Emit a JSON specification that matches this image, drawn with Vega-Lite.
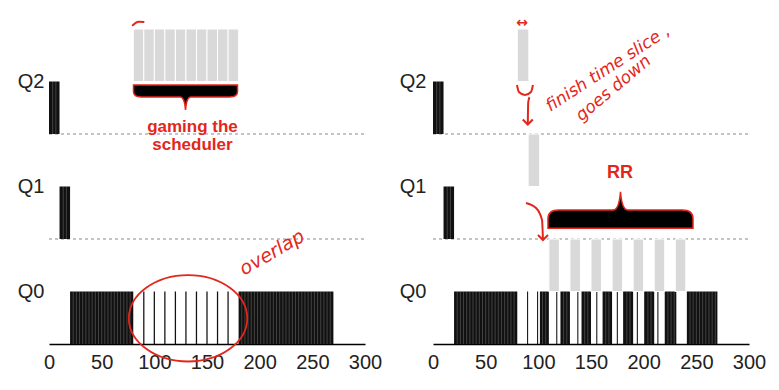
{
  "$schema": "https://vega.github.io/schema/vega-lite/v6.json",
  "padding": {"left": 17, "top": 8, "right": 5, "bottom": 5},
  "background": "white",
  "config": {"view": {"stroke": null}, "font": "Liberation Sans"},
  "datasets": {
    "dashes": [{"x": 0, "x2": 300, "y": 1}, {"x": 0, "x2": 300, "y": 2}],
    "leftA": [
      {"x": 0, "x2": 10, "lo": 2, "hi": 2.5},
      {"x": 10, "x2": 20, "lo": 1, "hi": 1.5},
      {"x": 20, "x2": 80, "lo": 0, "hi": 0.5},
      {"x": 89.4, "x2": 90.6, "lo": 0, "hi": 0.5},
      {"x": 99.4, "x2": 100.6, "lo": 0, "hi": 0.5},
      {"x": 109.4, "x2": 110.6, "lo": 0, "hi": 0.5},
      {"x": 119.4, "x2": 120.6, "lo": 0, "hi": 0.5},
      {"x": 129.4, "x2": 130.6, "lo": 0, "hi": 0.5},
      {"x": 139.4, "x2": 140.6, "lo": 0, "hi": 0.5},
      {"x": 149.4, "x2": 150.6, "lo": 0, "hi": 0.5},
      {"x": 159.4, "x2": 160.6, "lo": 0, "hi": 0.5},
      {"x": 169.4, "x2": 170.6, "lo": 0, "hi": 0.5},
      {"x": 180, "x2": 270, "lo": 0, "hi": 0.5}
    ],
    "leftB": [
      {"x": 80, "x2": 90, "lo": 2.5, "hi": 3},
      {"x": 90, "x2": 100, "lo": 2.5, "hi": 3},
      {"x": 100, "x2": 110, "lo": 2.5, "hi": 3},
      {"x": 110, "x2": 120, "lo": 2.5, "hi": 3},
      {"x": 120, "x2": 130, "lo": 2.5, "hi": 3},
      {"x": 130, "x2": 140, "lo": 2.5, "hi": 3},
      {"x": 140, "x2": 150, "lo": 2.5, "hi": 3},
      {"x": 150, "x2": 160, "lo": 2.5, "hi": 3},
      {"x": 160, "x2": 170, "lo": 2.5, "hi": 3},
      {"x": 170, "x2": 180, "lo": 2.5, "hi": 3}
    ],
    "leftS": [
      {"x": 3.5, "lo": 2, "hi": 2.5}, {"x": 6.5, "lo": 2, "hi": 2.5},
      {"x": 13.5, "lo": 1, "hi": 1.5}, {"x": 16.5, "lo": 1, "hi": 1.5},
      {"x": 23, "lo": 0, "hi": 0.5}, {"x": 26, "lo": 0, "hi": 0.5}, {"x": 29, "lo": 0, "hi": 0.5},
      {"x": 32, "lo": 0, "hi": 0.5}, {"x": 35, "lo": 0, "hi": 0.5}, {"x": 38, "lo": 0, "hi": 0.5},
      {"x": 41, "lo": 0, "hi": 0.5}, {"x": 44, "lo": 0, "hi": 0.5}, {"x": 47, "lo": 0, "hi": 0.5},
      {"x": 50, "lo": 0, "hi": 0.5}, {"x": 53, "lo": 0, "hi": 0.5}, {"x": 56, "lo": 0, "hi": 0.5},
      {"x": 59, "lo": 0, "hi": 0.5}, {"x": 62, "lo": 0, "hi": 0.5}, {"x": 65, "lo": 0, "hi": 0.5},
      {"x": 68, "lo": 0, "hi": 0.5}, {"x": 71, "lo": 0, "hi": 0.5}, {"x": 74, "lo": 0, "hi": 0.5},
      {"x": 77, "lo": 0, "hi": 0.5},
      {"x": 183, "lo": 0, "hi": 0.5}, {"x": 186, "lo": 0, "hi": 0.5}, {"x": 189, "lo": 0, "hi": 0.5},
      {"x": 192, "lo": 0, "hi": 0.5}, {"x": 195, "lo": 0, "hi": 0.5}, {"x": 198, "lo": 0, "hi": 0.5},
      {"x": 201, "lo": 0, "hi": 0.5}, {"x": 204, "lo": 0, "hi": 0.5}, {"x": 207, "lo": 0, "hi": 0.5},
      {"x": 210, "lo": 0, "hi": 0.5}, {"x": 213, "lo": 0, "hi": 0.5}, {"x": 216, "lo": 0, "hi": 0.5},
      {"x": 219, "lo": 0, "hi": 0.5}, {"x": 222, "lo": 0, "hi": 0.5}, {"x": 225, "lo": 0, "hi": 0.5},
      {"x": 228, "lo": 0, "hi": 0.5}, {"x": 231, "lo": 0, "hi": 0.5}, {"x": 234, "lo": 0, "hi": 0.5},
      {"x": 237, "lo": 0, "hi": 0.5}, {"x": 240, "lo": 0, "hi": 0.5}, {"x": 243, "lo": 0, "hi": 0.5},
      {"x": 246, "lo": 0, "hi": 0.5}, {"x": 249, "lo": 0, "hi": 0.5}, {"x": 252, "lo": 0, "hi": 0.5},
      {"x": 255, "lo": 0, "hi": 0.5}, {"x": 258, "lo": 0, "hi": 0.5}, {"x": 261, "lo": 0, "hi": 0.5},
      {"x": 264, "lo": 0, "hi": 0.5}, {"x": 267, "lo": 0, "hi": 0.5}
    ],
    "rightA": [
      {"x": 0, "x2": 10, "lo": 2, "hi": 2.5},
      {"x": 10, "x2": 20, "lo": 1, "hi": 1.5},
      {"x": 20, "x2": 80, "lo": 0, "hi": 0.5},
      {"x": 89.3, "x2": 90.3, "lo": 0, "hi": 0.5},
      {"x": 98.8, "x2": 99.8, "lo": 0, "hi": 0.5},
      {"x": 101.5, "x2": 110, "lo": 0, "hi": 0.5},
      {"x": 117, "x2": 118, "lo": 0, "hi": 0.5},
      {"x": 121, "x2": 130, "lo": 0, "hi": 0.5},
      {"x": 137, "x2": 138, "lo": 0, "hi": 0.5},
      {"x": 141, "x2": 150, "lo": 0, "hi": 0.5},
      {"x": 155, "x2": 156, "lo": 0, "hi": 0.5},
      {"x": 161, "x2": 170, "lo": 0, "hi": 0.5},
      {"x": 174.5, "x2": 175.5, "lo": 0, "hi": 0.5},
      {"x": 180.5, "x2": 190, "lo": 0, "hi": 0.5},
      {"x": 193.5, "x2": 194.5, "lo": 0, "hi": 0.5},
      {"x": 200.5, "x2": 210, "lo": 0, "hi": 0.5},
      {"x": 213, "x2": 214, "lo": 0, "hi": 0.5},
      {"x": 220, "x2": 231, "lo": 0, "hi": 0.5},
      {"x": 241, "x2": 270, "lo": 0, "hi": 0.5}
    ],
    "rightB": [
      {"x": 80, "x2": 91, "lo": 2.5, "hi": 3},
      {"x": 90.3, "x2": 101.3, "lo": 1.5, "hi": 2},
      {"x": 110, "x2": 120, "lo": 0.5, "hi": 1},
      {"x": 130, "x2": 140, "lo": 0.5, "hi": 1},
      {"x": 150, "x2": 160, "lo": 0.5, "hi": 1},
      {"x": 170, "x2": 180, "lo": 0.5, "hi": 1},
      {"x": 190, "x2": 200, "lo": 0.5, "hi": 1},
      {"x": 210, "x2": 220, "lo": 0.5, "hi": 1},
      {"x": 230, "x2": 240, "lo": 0.5, "hi": 1}
    ],
    "rightS": [
      {"x": 3.5, "lo": 2, "hi": 2.5}, {"x": 6.5, "lo": 2, "hi": 2.5},
      {"x": 13.5, "lo": 1, "hi": 1.5}, {"x": 16.5, "lo": 1, "hi": 1.5},
      {"x": 23, "lo": 0, "hi": 0.5}, {"x": 26, "lo": 0, "hi": 0.5}, {"x": 29, "lo": 0, "hi": 0.5},
      {"x": 32, "lo": 0, "hi": 0.5}, {"x": 35, "lo": 0, "hi": 0.5}, {"x": 38, "lo": 0, "hi": 0.5},
      {"x": 41, "lo": 0, "hi": 0.5}, {"x": 44, "lo": 0, "hi": 0.5}, {"x": 47, "lo": 0, "hi": 0.5},
      {"x": 50, "lo": 0, "hi": 0.5}, {"x": 53, "lo": 0, "hi": 0.5}, {"x": 56, "lo": 0, "hi": 0.5},
      {"x": 59, "lo": 0, "hi": 0.5}, {"x": 62, "lo": 0, "hi": 0.5}, {"x": 65, "lo": 0, "hi": 0.5},
      {"x": 68, "lo": 0, "hi": 0.5}, {"x": 71, "lo": 0, "hi": 0.5}, {"x": 74, "lo": 0, "hi": 0.5},
      {"x": 77, "lo": 0, "hi": 0.5},
      {"x": 104, "lo": 0, "hi": 0.5}, {"x": 107, "lo": 0, "hi": 0.5},
      {"x": 124, "lo": 0, "hi": 0.5}, {"x": 127, "lo": 0, "hi": 0.5},
      {"x": 144, "lo": 0, "hi": 0.5}, {"x": 147, "lo": 0, "hi": 0.5},
      {"x": 164, "lo": 0, "hi": 0.5}, {"x": 167, "lo": 0, "hi": 0.5},
      {"x": 184, "lo": 0, "hi": 0.5}, {"x": 187, "lo": 0, "hi": 0.5},
      {"x": 204, "lo": 0, "hi": 0.5}, {"x": 207, "lo": 0, "hi": 0.5},
      {"x": 223, "lo": 0, "hi": 0.5}, {"x": 226, "lo": 0, "hi": 0.5}, {"x": 229, "lo": 0, "hi": 0.5},
      {"x": 244, "lo": 0, "hi": 0.5}, {"x": 247, "lo": 0, "hi": 0.5}, {"x": 250, "lo": 0, "hi": 0.5},
      {"x": 253, "lo": 0, "hi": 0.5}, {"x": 256, "lo": 0, "hi": 0.5}, {"x": 259, "lo": 0, "hi": 0.5},
      {"x": 262, "lo": 0, "hi": 0.5}, {"x": 265, "lo": 0, "hi": 0.5}, {"x": 268, "lo": 0, "hi": 0.5}
    ],
    "leftBrace": [{"x": 129.6, "y": 2.352}],
    "leftEllipse": [{"x": 132, "y": 0.245}],
    "leftLines": [
      {"g": "arc", "o": 1, "x": 78.9, "y": 3.03},
      {"g": "arc", "o": 2, "x": 85.1, "y": 3.07},
      {"g": "arc", "o": 3, "x": 90.5, "y": 3.067}
    ],
    "leftText": [
      {"t": "gaming the", "x": 136.2, "y": 2.07},
      {"t": "scheduler", "x": 136.2, "y": 1.895}
    ],
    "leftHand": [{"t": "overlap", "x": 211.7, "y": 0.87}],
    "rightBrace": [{"x": 178, "y": 1.276}],
    "rightLines": [
      {"g": "cup", "o": 1, "x": 79.7, "y": 2.467},
      {"g": "cup", "o": 2, "x": 81.6, "y": 2.40},
      {"g": "cup", "o": 3, "x": 87.3, "y": 2.371},
      {"g": "cup", "o": 4, "x": 93, "y": 2.40},
      {"g": "cup", "o": 5, "x": 94.9, "y": 2.467},
      {"g": "down", "o": 1, "x": 91.6, "y": 2.35},
      {"g": "down", "o": 2, "x": 90.4, "y": 2.3},
      {"g": "down", "o": 3, "x": 90, "y": 2.09},
      {"g": "curve", "o": 1, "x": 88.3, "y": 1.343},
      {"g": "curve", "o": 2, "x": 97.8, "y": 1.295},
      {"g": "curve", "o": 3, "x": 103.5, "y": 1.181},
      {"g": "curve", "o": 4, "x": 104.4, "y": 0.99}
    ],
    "rightHeads": [{"x": 90, "y": 2.09}, {"x": 104.4, "y": 0.99}],
    "rightHand": [
      {"t": "finish time slice ,", "x": 166.1, "y": 2.624, "a": 327},
      {"t": "goes down", "x": 171.4, "y": 2.435, "a": 320}
    ],
    "rightRR": [{"t": "RR", "x": 177.5, "y": 1.629}],
    "rightDbl": [{"t": "↔", "x": 84.5, "y": 3.06}]
  },
  "hconcat": [
    {
      "width": 316,
      "height": 336,
      "layer": [
        {
          "data": {"name": "dashes"},
          "mark": {"type": "rule", "strokeDash": [3, 3], "color": "#8a8a8a", "strokeWidth": 1},
          "encoding": {
            "x": {"field": "x", "type": "quantitative", "scale": {"domain": [0, 300], "nice": false},
              "axis": {"values": [0, 50, 100, 150, 200, 250, 300], "ticks": false, "grid": false, "title": null, "labelFontSize": 20, "labelColor": "#222", "domainColor": "#000", "domainWidth": 1.5, "labelPadding": 8, "labelFlush": false}},
            "x2": {"field": "x2"},
            "y": {"field": "y", "type": "quantitative", "scale": {"domain": [0, 3.2], "nice": false},
              "axis": {"values": [0.5, 1.5, 2.5], "labelExpr": "datum.value < 1 ? 'Q0' : datum.value < 2 ? 'Q1' : 'Q2'", "domain": false, "ticks": false, "grid": false, "title": null, "labelFontSize": 20, "labelColor": "#222", "labelPadding": 5}}
          }
        },
        {
          "data": {"name": "leftA"},
          "mark": {"type": "rect", "color": "#111"},
          "encoding": {
            "x": {"field": "x", "type": "quantitative"}, "x2": {"field": "x2"},
            "y": {"field": "lo", "type": "quantitative"}, "y2": {"field": "hi"}
          }
        },
        {
          "data": {"name": "leftS"},
          "mark": {"type": "rule", "color": "#ffffff", "strokeWidth": 0.6, "opacity": 0.35},
          "encoding": {
            "x": {"field": "x", "type": "quantitative"},
            "y": {"field": "lo", "type": "quantitative"}, "y2": {"field": "hi"}
          }
        },
        {
          "data": {"name": "leftB"},
          "mark": {"type": "rect", "fill": "#d9d9d9", "stroke": "#ffffff", "strokeWidth": 1},
          "encoding": {
            "x": {"field": "x", "type": "quantitative"}, "x2": {"field": "x2"},
            "y": {"field": "lo", "type": "quantitative"}, "y2": {"field": "hi"}
          }
        },
        {
          "data": {"name": "leftBrace"},
          "mark": {"type": "point", "shape": "M-1,-0.23L1,-0.23L1,-0.1Q1,0,0.85,0L0.1,0Q0.02,0,0,0.25Q-0.02,0,-0.1,0L-0.85,0Q-1,0,-1,-0.1Z", "size": 10816, "filled": true, "fill": "#000", "stroke": "#e3261b", "strokeWidth": 1.5, "opacity": 1},
          "encoding": {"x": {"field": "x", "type": "quantitative"}, "y": {"field": "y", "type": "quantitative"}}
        },
        {
          "data": {"name": "leftLines"},
          "mark": {"type": "line", "color": "#e3261b", "strokeWidth": 2, "interpolate": "monotone"},
          "encoding": {
            "x": {"field": "x", "type": "quantitative"}, "y": {"field": "y", "type": "quantitative"},
            "detail": {"field": "g"}, "order": {"field": "o"}
          }
        },
        {
          "data": {"name": "leftText"},
          "mark": {"type": "text", "color": "#e3261b", "fontSize": 17, "fontWeight": "bold", "baseline": "middle", "align": "center"},
          "encoding": {"x": {"field": "x", "type": "quantitative"}, "y": {"field": "y", "type": "quantitative"}, "text": {"field": "t"}}
        },
        {
          "data": {"name": "leftHand"},
          "mark": {"type": "text", "color": "#e3261b", "fontSize": 19, "fontStyle": "italic", "font": "DejaVu Sans", "angle": 330, "baseline": "middle", "align": "center"},
          "encoding": {"x": {"field": "x", "type": "quantitative"}, "y": {"field": "y", "type": "quantitative"}, "text": {"field": "t"}}
        },
        {
          "data": {"name": "leftEllipse"},
          "mark": {"type": "point", "shape": "M-1,0A1,0.73,0,1,1,1,0A1,0.73,0,1,1,-1,0Z", "size": 14020, "filled": false, "stroke": "#e3261b", "strokeWidth": 1.8, "opacity": 1},
          "encoding": {"x": {"field": "x", "type": "quantitative"}, "y": {"field": "y", "type": "quantitative"}}
        }
      ]
    },
    {
      "width": 316,
      "height": 336,
      "layer": [
        {
          "data": {"name": "dashes"},
          "mark": {"type": "rule", "strokeDash": [3, 3], "color": "#8a8a8a", "strokeWidth": 1},
          "encoding": {
            "x": {"field": "x", "type": "quantitative", "scale": {"domain": [0, 300], "nice": false},
              "axis": {"values": [0, 50, 100, 150, 200, 250, 300], "ticks": false, "grid": false, "title": null, "labelFontSize": 20, "labelColor": "#222", "domainColor": "#000", "domainWidth": 1.5, "labelPadding": 8, "labelFlush": false}},
            "x2": {"field": "x2"},
            "y": {"field": "y", "type": "quantitative", "scale": {"domain": [0, 3.2], "nice": false},
              "axis": {"values": [0.5, 1.5, 2.5], "labelExpr": "datum.value < 1 ? 'Q0' : datum.value < 2 ? 'Q1' : 'Q2'", "domain": false, "ticks": false, "grid": false, "title": null, "labelFontSize": 20, "labelColor": "#222", "labelPadding": 7}}
          }
        },
        {
          "data": {"name": "rightA"},
          "mark": {"type": "rect", "color": "#111"},
          "encoding": {
            "x": {"field": "x", "type": "quantitative"}, "x2": {"field": "x2"},
            "y": {"field": "lo", "type": "quantitative"}, "y2": {"field": "hi"}
          }
        },
        {
          "data": {"name": "rightS"},
          "mark": {"type": "rule", "color": "#ffffff", "strokeWidth": 0.6, "opacity": 0.35},
          "encoding": {
            "x": {"field": "x", "type": "quantitative"},
            "y": {"field": "lo", "type": "quantitative"}, "y2": {"field": "hi"}
          }
        },
        {
          "data": {"name": "rightB"},
          "mark": {"type": "rect", "fill": "#d9d9d9", "stroke": "#ffffff", "strokeWidth": 1},
          "encoding": {
            "x": {"field": "x", "type": "quantitative"}, "x2": {"field": "x2"},
            "y": {"field": "lo", "type": "quantitative"}, "y2": {"field": "hi"}
          }
        },
        {
          "data": {"name": "rightBrace"},
          "mark": {"type": "point", "shape": "M-1,0.25L1,0.25L1,0.12Q1,0,0.85,0L0.1,0Q0.02,0,0,-0.25Q-0.02,0,-0.1,0L-0.85,0Q-1,0,-1,0.12Z", "size": 21025, "filled": true, "fill": "#000", "stroke": "#e3261b", "strokeWidth": 1.5, "opacity": 1},
          "encoding": {"x": {"field": "x", "type": "quantitative"}, "y": {"field": "y", "type": "quantitative"}}
        },
        {
          "data": {"name": "rightLines"},
          "mark": {"type": "line", "color": "#e3261b", "strokeWidth": 2, "interpolate": "monotone"},
          "encoding": {
            "x": {"field": "x", "type": "quantitative"}, "y": {"field": "y", "type": "quantitative"},
            "detail": {"field": "g"}, "order": {"field": "o"}
          }
        },
        {
          "data": {"name": "rightHeads"},
          "mark": {"type": "point", "shape": "M-1,-1L0,0L1,-1", "size": 100, "filled": false, "stroke": "#e3261b", "strokeWidth": 2, "opacity": 1},
          "encoding": {"x": {"field": "x", "type": "quantitative"}, "y": {"field": "y", "type": "quantitative"}}
        },
        {
          "data": {"name": "rightHand"},
          "mark": {"type": "text", "color": "#e3261b", "fontSize": 17, "fontStyle": "italic", "font": "DejaVu Sans", "baseline": "middle", "align": "center"},
          "encoding": {"x": {"field": "x", "type": "quantitative"}, "y": {"field": "y", "type": "quantitative"}, "text": {"field": "t"}, "angle": {"field": "a", "type": "quantitative", "scale": null}}
        },
        {
          "data": {"name": "rightRR"},
          "mark": {"type": "text", "color": "#e3261b", "fontSize": 18, "fontWeight": "bold", "baseline": "middle", "align": "center"},
          "encoding": {"x": {"field": "x", "type": "quantitative"}, "y": {"field": "y", "type": "quantitative"}, "text": {"field": "t"}}
        },
        {
          "data": {"name": "rightDbl"},
          "mark": {"type": "text", "color": "#e3261b", "fontSize": 14, "font": "DejaVu Sans", "fontWeight": "bold", "baseline": "middle", "align": "center"},
          "encoding": {"x": {"field": "x", "type": "quantitative"}, "y": {"field": "y", "type": "quantitative"}, "text": {"field": "t"}}
        }
      ]
    }
  ],
  "spacing": 68,
  "bounds": "flush"
}
